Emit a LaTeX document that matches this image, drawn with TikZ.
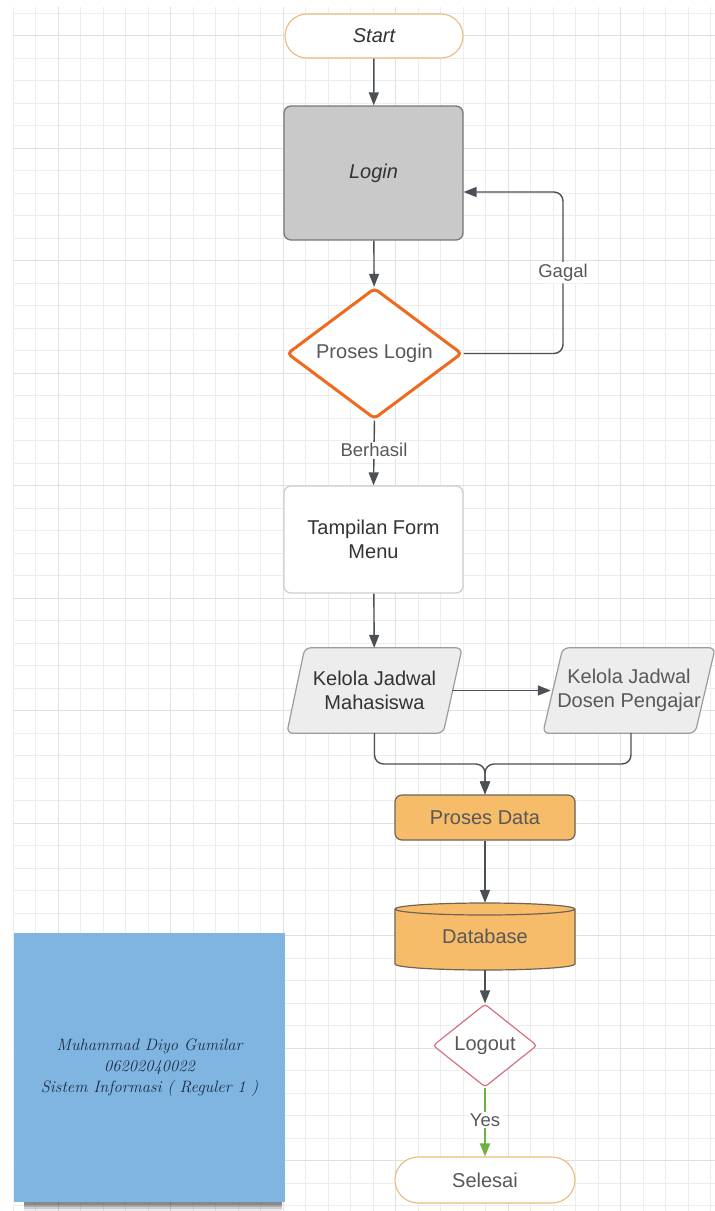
\documentclass[tikz,border=0pt]{standalone}
\usepackage{fontspec}
\setsansfont{Liberation Sans}
\usetikzlibrary{arrows.meta,shapes.geometric,shapes.misc,calc}
\pgfdeclarelayer{bg}
\pgfsetlayers{bg,main}
\definecolor{gridc}{HTML}{EDEDED}
\definecolor{gridm}{HTML}{E0E0E0}
\definecolor{linec}{HTML}{4B4F56}
\definecolor{txt}{HTML}{333333}
\definecolor{txtl}{HTML}{585858}
\definecolor{startc}{HTML}{EBBA7C}
\definecolor{loginf}{HTML}{C9C9C9}
\definecolor{loginb}{HTML}{787878}
\definecolor{orangeb}{HTML}{F06A1E}
\definecolor{lightb}{HTML}{CFCFCF}
\definecolor{parf}{HTML}{EDEDED}
\definecolor{parb}{HTML}{9C9C9C}
\definecolor{orf}{HTML}{F7BC6A}
\definecolor{orb}{HTML}{6F6454}
\definecolor{pinkb}{HTML}{D9707F}
\definecolor{greenc}{HTML}{6DB33F}
\definecolor{bluef}{HTML}{80B5E1}
\definecolor{navy}{HTML}{1E2B45}
\tikzset{
  base/.style={font=\sffamily\fontsize{20}{24}\selectfont, text=txt, align=center, inner sep=0pt},
  term/.style={base, rounded rectangle, fill=white, draw=startc, line width=1.1pt},
  box/.style={base, rectangle, rounded corners=7pt, line width=1.3pt},
  lbl/.style={font=\sffamily\fontsize{18.5}{22}\selectfont, text=txtl, fill=white, inner sep=2pt},
  conn/.style={draw=linec, line width=1.4pt},
  arr/.style={conn, -{Triangle[length=13pt,width=10pt]}},
  garr/.style={draw=greenc, line width=2pt, -{Triangle[length=13pt,width=10pt]}},
}
\begin{document}
\begin{tikzpicture}[x=1pt,y=-1pt]
\useasboundingbox (0,0) rectangle (715,1211);
\begin{pgfonlayer}{bg}
\fill[white] (0,0) rectangle (715,1211);
\foreach \k in {0,...,31} \draw[gridc, line width=0.9pt] ({13+22.5*\k},7) -- ({13+22.5*\k},1211);
\foreach \k in {0,...,53} \draw[gridc, line width=0.9pt] (13,{13+22.5*\k}) -- (715,{13+22.5*\k});
\foreach \k in {2,7,...,31} \draw[gridm, line width=1pt] ({13+22.5*\k},7) -- ({13+22.5*\k},1211);
\foreach \k in {1,6,...,53} \draw[gridm, line width=1pt] (13,{13+22.5*\k}) -- (715,{13+22.5*\k});
% shadow of the note
\foreach \d/\o in {9/0.08,7/0.12,5/0.16,3/0.2} \fill[black, opacity=\o] (24,1195) rectangle (282,1202+\d);
\end{pgfonlayer}

% nodes
\node[term, minimum width=178pt, minimum height=44pt, font=\sffamily\itshape\fontsize{20}{24}\selectfont] (start) at (374,36) {Start};
\node[box, fill=loginf, draw=loginb, minimum width=179pt, minimum height=134pt, font=\sffamily\itshape\fontsize{20}{24}\selectfont] (login) at (373.5,173) {Login};
\node[base, diamond, shape aspect=1.33, draw=orangeb, line width=3pt, rounded corners=4pt, fill=white, text=txtl, minimum width=175pt, minimum height=131pt] (pl) at (374.5,353.5) {Proses Login};
\node[box, fill=white, draw=lightb, minimum width=179pt, minimum height=107pt] (menu) at (373.5,539.5) {Tampilan Form\\Menu};
\node[base, minimum width=175pt, minimum height=85pt] (mhs) at (374.5,690.5) {Kelola Jadwal\\Mahasiswa};
\node[base, text=txtl, minimum width=172pt, minimum height=85pt] (dos) at (629,690.5) {Kelola Jadwal\\Dosen Pengajar};
\node[box, fill=orf, draw=orb, line width=1.2pt, text=txtl, minimum width=180pt, minimum height=45pt] (pd) at (485,817.5) {Proses Data};
\node[base, text=txtl, minimum width=180pt, minimum height=67pt] (db) at (485,936.5) {\raisebox{-5pt}{Database}};
\node[base, diamond, shape aspect=1.25, draw=pinkb, line width=1.2pt, rounded corners=3pt, fill=white, text=txtl, minimum width=104pt, minimum height=83pt] (lo) at (485,1045.5) {Logout};
\node[term, text=txtl, minimum width=180pt, minimum height=46pt] (end) at (485,1180) {Selesai};
\node[fill=bluef, minimum width=271pt, minimum height=269pt, align=center, text=navy,
      font=\rmfamily\itshape\fontsize{16.5}{21}\selectfont] (note) at (149.5,1067.5)
      {Muhammad Diyo Gumilar\\06202040022\\Sistem Informasi ( Reguler 1 )};

% shapes drawn behind text
\begin{pgfonlayer}{bg}
\draw[fill=parf, draw=parb, line width=1.2pt, rounded corners=6pt]
  ([xshift=18pt]mhs.north west) -- (mhs.north east) -- ([xshift=-19pt]mhs.south east) -- (mhs.south west) -- cycle;
\draw[fill=parf, draw=parb, line width=1.2pt, rounded corners=6pt]
  ([xshift=20pt]dos.north west) -- (dos.north east) -- ([xshift=-20pt]dos.south east) -- (dos.south west) -- cycle;
\draw[fill=orf, draw=orb, line width=1.2pt]
  (395,909) -- (395,964) arc[start angle=180, end angle=360, x radius=90pt, y radius=6pt]
  -- (575,909) arc[start angle=0, end angle=180, x radius=90pt, y radius=6pt] -- cycle;
\draw[draw=orb, line width=1.2pt] (395,909) arc[start angle=180, end angle=360, x radius=90pt, y radius=6pt];
\end{pgfonlayer}

\coordinate (mhsR) at ($(mhs.east)+(-10,0)$);
\coordinate (dosL) at ($(dos.west)+(8,0)$);
\coordinate (join) at (485,764);
\coordinate (gx) at (563,353.5);

% connectors
\draw[arr] (start) -- (login);
\draw[arr] (login) -- (pl);
\draw[arr, rounded corners=9pt] (pl.east) -- (gx) |- node[lbl, pos=0.25] {Gagal} ([yshift=-19pt]login.east);
\draw[arr] (pl.south) -- node[lbl, pos=0.46] {Berhasil} (menu.north);
\draw[arr] (menu) -- (mhs);
\draw[arr] (mhsR) -- (dosL);
\draw[arr, rounded corners=9pt] (mhs.south) |- (join) -- (pd.north);
\draw[arr, rounded corners=9pt] ([xshift=2pt]dos.south) |- (join) -- (pd.north);
\draw[arr] (pd) -- (db.north);
\draw[arr] (db.south) -- (lo.north);
\draw[garr] (lo.south) -- node[lbl, pos=0.47] {Yes} (end.north);
\end{tikzpicture}
\end{document}
